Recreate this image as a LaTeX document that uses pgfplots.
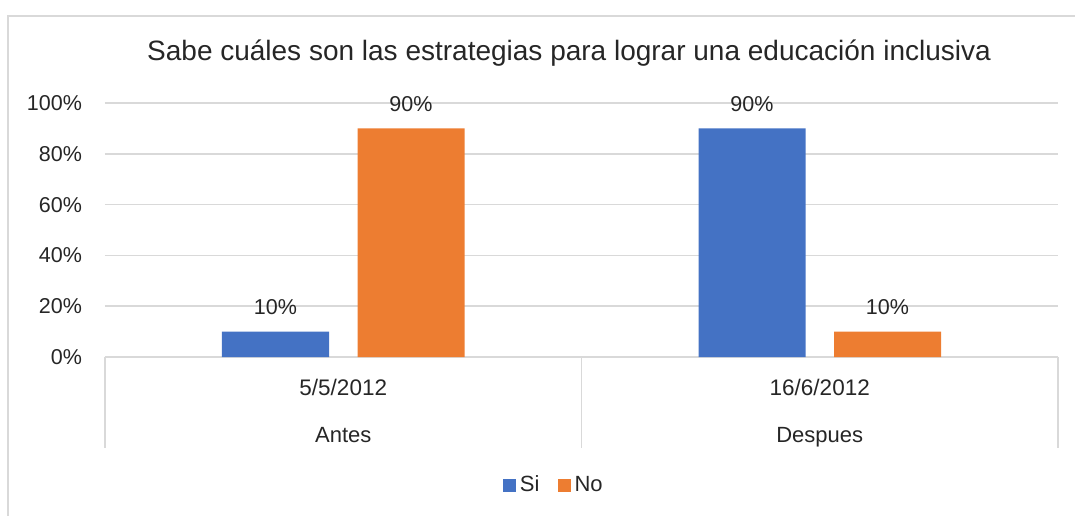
\documentclass[border=0pt]{standalone}
\usepackage{pgfplots}
\pgfplotsset{compat=1.18}
\usepackage{fontspec}
\setmainfont{Liberation Sans}
\definecolor{siblue}{HTML}{4472C4}
\definecolor{noorange}{HTML}{ED7D31}
\definecolor{gridgray}{HTML}{D9D9D9}
\begin{document}
\begin{tikzpicture}
\useasboundingbox (-52.5pt,-79pt) rectangle (485pt,178.5pt);
\draw[gridgray, line width=1pt] (-48.5pt,-82pt) -- (-48.5pt,170.5pt) -- (488pt,170.5pt);
\begin{axis}[
  at={(0,0)}, anchor=south west,
  scale only axis, width=476.5pt, height=127pt,
  xmin=0, xmax=2, ymin=0, ymax=100,
  clip=false,
  ybar, bar width=53.5pt,
  axis line style={draw=none},
  major tick length=0pt,
  xtick=\empty,
  ytick={0,20,40,60,80,100},
  yticklabel={\pgfmathprintnumber{\tick}\%},
  yticklabel shift=8pt,
  /pgf/number format/assume math mode=true,
  tick label style={font=\fontsize{10.75}{13}\selectfont, text=black!85},
  ymajorgrids, grid style={gridgray, line width=0.75pt},
  nodes near coords={\pgfmathprintnumber\pgfplotspointmeta\%},
  nodes near coords style={font=\fontsize{10.75}{13}\selectfont, text=black!85, yshift=5pt},
  legend columns=2,
  legend style={draw=none, at={(axis description cs:0.472,-0.504)}, anchor=center,
    font=\fontsize{11}{13}\selectfont, text=black!85,
    /tikz/every even column/.append style={column sep=7pt}},
  legend image code/.code={\fill[#1,draw=none] (0pt,-3.25pt) rectangle (6.5pt,3.25pt);},
]
\addplot[fill=siblue, draw=none, bar shift=-33.875pt] coordinates {(0.5,10) (1.5,90)};
\addplot[fill=noorange, draw=none, bar shift=33.875pt] coordinates {(0.5,90) (1.5,10)};
\legend{Si,No}
\draw[gridgray, line width=0.75pt] (axis cs:0,0) -- ++(0,-45.5pt);
\draw[gridgray, line width=0.75pt] (axis cs:1,0) -- ++(0,-45.5pt);
\draw[gridgray, line width=0.75pt] (axis cs:2,0) -- ++(0,-45.5pt);
\node[font=\fontsize{11.25}{13}\selectfont, text=black!85, anchor=base] at (axis cs:0.5,0) [yshift=-19pt] {5/5/2012};
\node[font=\fontsize{11.25}{13}\selectfont, text=black!85, anchor=base] at (axis cs:1.5,0) [yshift=-19pt] {16/6/2012};
\node[font=\fontsize{11}{13}\selectfont, text=black!85, anchor=base] at (axis cs:0.5,0) [yshift=-42.5pt] {Antes};
\node[font=\fontsize{11}{13}\selectfont, text=black!85, anchor=base] at (axis cs:1.5,0) [yshift=-42.5pt] {Despues};
\end{axis}
\node[font=\fontsize{14}{16}\selectfont, text=black!85] at (232pt,152pt) {Sabe cuáles son las estrategias para lograr una educación inclusiva};
\end{tikzpicture}
\end{document}
